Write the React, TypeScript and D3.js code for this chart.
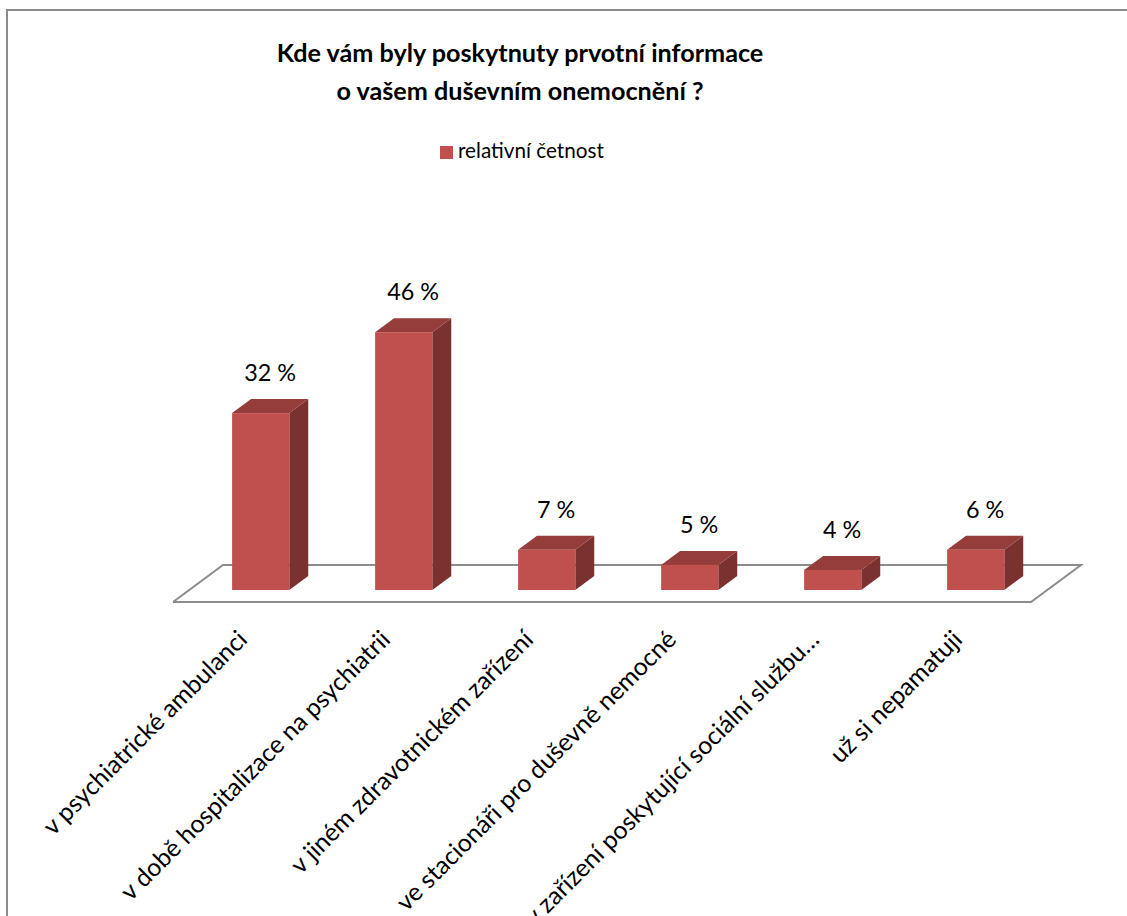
import React from "react";
import * as d3 from "d3";

const categories = [
  "v psychiatrické ambulanci",
  "v době hospitalizace na psychiatrii",
  "v jiném zdravotnickém zařízení",
  "ve stacionáři pro duševně nemocné",
  "v zařízení poskytující sociální službu…",
  "už si nepamatuji",
];
const values = [31.7, 46.2, 7.2, 4.5, 3.6, 7.2];
const valueLabels = ["32 %", "46 %", "7 %", "5 %", "4 %", "6 %"];
const seriesName = "relativní četnost";
const titleLines = [
  "Kde vám byly poskytnuty prvotní informace",
  "o vašem duševním onemocnění ?",
];

const W = 1127;
const H = 916;
const FONT = "Lato, 'Open Sans', sans-serif";

// floor geometry
const floorFrontY = 602;
const floorDX = 50;
const floorDY = 37;
const floorLeft = 173;
const floorRight = 1031;
// bar placement within depth
const barOffDY = 12;
const barOffDX = (barOffDY / floorDY) * floorDX;
const barDepthDY = 14;
const barDepthDX = (barDepthDY / floorDY) * floorDX;

const FRONT = "#C0504D";
const TOP = "#953D3B";
const SIDE = "#7A3130";

export default function App() {
  const x = d3
    .scaleBand<string>()
    .domain(categories)
    .range([floorLeft, floorRight])
    .paddingInner(0.6)
    .paddingOuter(0.3);
  const baseY = floorFrontY - barOffDY;
  const y = d3.scaleLinear().domain([0, 50]).range([baseY, baseY - 279]);
  const bw = x.bandwidth();

  const floorPts: [number, number][] = [
    [floorLeft, floorFrontY],
    [floorRight, floorFrontY],
    [floorRight + floorDX, floorFrontY - floorDY],
    [floorLeft + floorDX, floorFrontY - floorDY],
  ];
  const line = d3.line();

  return (
    <svg
      width={W}
      height={H}
      style={{ position: "absolute", left: 0, top: 0, background: "#fff" }}
      fontFamily={FONT}
    >
      <rect x={0} y={0} width={W} height={H} fill="#fff" />
      <rect x={7} y={10} width={W + 20} height={H + 20} fill="none" stroke="#8a8a8a" strokeWidth={2} />

      {titleLines.map((t, i) => (
        <text
          key={i}
          x={520}
          y={62 + i * 38}
          textAnchor="middle"
          fontWeight="bold"
          fontSize={25.2}
          fill="#000"
        >
          {t}
        </text>
      ))}

      <rect x={440} y={146} width={13} height={13} fill={FRONT} />
      <text x={458} y={158} fontSize={20.7} fill="#000">
        {seriesName}
      </text>

      <path
        d={line(floorPts.concat([floorPts[0]]))!}
        fill="#fff"
        stroke="#8c8c8c"
        strokeWidth={2}
        strokeLinejoin="miter"
      />

      {categories.map((c, i) => {
        const x0 = (x(c) as number) + barOffDX;
        const x1 = x0 + bw;
        const yb = y(0);
        const yt = y(values[i]);
        const top = line([
          [x0, yt],
          [x1, yt],
          [x1 + barDepthDX, yt - barDepthDY],
          [x0 + barDepthDX, yt - barDepthDY],
          [x0, yt],
        ])!;
        const side = line([
          [x1, yt],
          [x1 + barDepthDX, yt - barDepthDY],
          [x1 + barDepthDX, yb - barDepthDY],
          [x1, yb],
          [x1, yt],
        ])!;
        return (
          <g key={c}>
            <path d={side} fill={SIDE} />
            <path d={top} fill={TOP} />
            <rect x={x0} y={yt} width={bw} height={yb - yt} fill={FRONT} />
            <text
              x={x0 + bw / 2 + barDepthDX / 2}
              y={yt - barDepthDY - 18}
              textAnchor="middle"
              fontSize={23.4}
              fill="#000"
            >
              {valueLabels[i]}
            </text>
          </g>
        );
      })}

      {categories.map((c) => {
        const cx = (x(c) as number) + barOffDX + bw / 2;
        return (
          <text
            key={"l" + c}
            transform={`translate(${cx - 12},${641}) rotate(-45)`}
            textAnchor="end"
            fontSize={24.8}
            fill="#000"
          >
            {c}
          </text>
        );
      })}
    </svg>
  );
}
